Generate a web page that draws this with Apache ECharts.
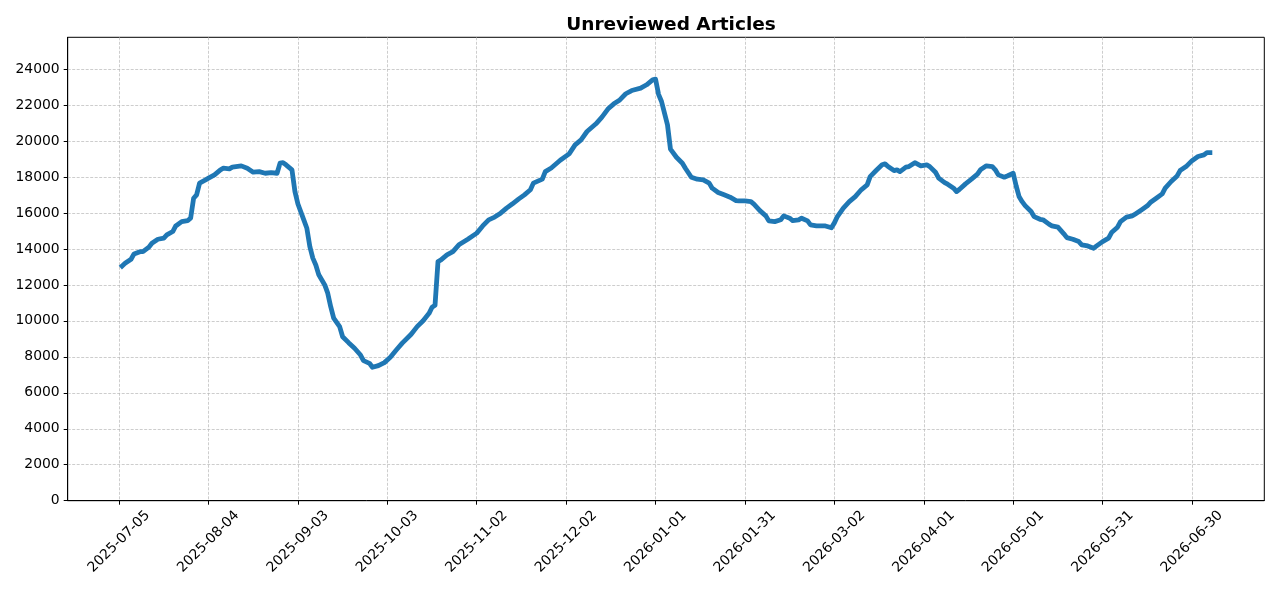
<!DOCTYPE html>
<html>

<head>
  <meta charset="utf-8">
  <title>Unreviewed Articles</title>
  <script src="https://cdn.jsdelivr.net/npm/echarts@6/dist/echarts.min.js"></script>
</head>
<style>
  * {
    padding: 0;
    margin: 0;
  }

  #main {
    width: 1280px;
    height: 591px;
    overflow: hidden;
    position: absolute;
    background: #fff;
  }
</style>

<body>
  <div id="main"></div>
  <script type="text/javascript">
    // x = days since 2025-07-05
    var tickDays = [0, 30, 60, 90, 120, 150, 180, 210, 240, 270, 300, 330, 360];
    var tickLabels = ['2025-07-05', '2025-08-04', '2025-09-03', '2025-10-03', '2025-11-02', '2025-12-02',
      '2026-01-01', '2026-01-31', '2026-03-02', '2026-04-01', '2026-05-01', '2026-05-31', '2026-06-30'];
    var yTicks = [0, 2000, 4000, 6000, 8000, 10000, 12000, 14000, 16000, 18000, 20000, 22000, 24000];

    var days = [1, 2, 4, 5, 7, 8, 10, 11, 13, 15, 16, 18, 19, 21, 23, 24, 25, 26, 27, 29,
      30, 32, 34, 35, 37, 38, 41, 43, 45, 47, 49, 51, 53, 54, 55, 56, 58, 59, 60, 62,
      63, 64, 65, 66, 67, 69, 70, 71, 72, 74, 75, 77, 79, 81, 82, 84, 85, 87, 89, 91,
      93, 95, 98, 100, 102, 104, 105, 106, 107, 108, 110, 112, 114, 117, 120, 122, 124, 126, 128, 130,
      132, 134, 136, 138, 139, 142, 143, 145, 148, 151, 153, 155, 157, 160, 162, 164, 166, 168, 170, 172,
      175, 177, 179, 180, 181, 182, 184, 185, 187, 189, 190, 192, 194, 196, 198, 199, 201, 203, 205, 207,
      208, 210, 212, 213, 215, 217, 218, 220, 222, 223, 225, 226, 228, 229, 231, 232, 234, 237, 239, 240,
      241, 243, 245, 247, 249, 251, 252, 254, 256, 257, 258, 260, 261, 262, 264, 265, 267, 269, 271, 272,
      274, 275, 277, 278, 280, 281, 282, 284, 286, 288, 289, 291, 293, 294, 295, 297, 298, 300, 301, 302,
      303, 304, 306, 307, 309, 310, 312, 313, 315, 317, 318, 320, 322, 323, 325, 327, 328, 330, 332, 333,
      335, 336, 338, 340, 341, 343, 345, 346, 348, 350, 351, 353, 355, 356, 358, 360, 362, 364, 365, 366];
    var articles = [13050, 13200, 13430, 13725, 13850, 13850, 14100, 14320, 14540, 14600, 14780, 14970, 15280, 15520, 15580, 15710, 16820, 17010, 17660, 17840,
      17935, 18120, 18400, 18490, 18450, 18550, 18620, 18490, 18270, 18300, 18210, 18250, 18210, 18770, 18800, 18680, 18400, 17190, 16500, 15600,
      15150, 14130, 13490, 13110, 12560, 12000, 11540, 10790, 10150, 9680, 9120, 8790, 8480, 8100, 7790, 7640, 7420, 7510, 7680, 7980,
      8380, 8760, 9260, 9680, 10010, 10420, 10760, 10870, 13300, 13390, 13670, 13850, 14230, 14540, 14880, 15280, 15620, 15770, 15990, 16270,
      16510, 16770, 17010, 17290, 17660, 17880, 18300, 18500, 18930, 19290, 19790, 20070, 20530, 20960, 21330, 21780, 22070, 22290, 22630, 22810,
      22940, 23130, 23400, 23440, 22600, 22200, 20900, 19550, 19100, 18770, 18490, 17990, 17880, 17840, 17660, 17380, 17140, 17010, 16880, 16690,
      16670, 16670, 16630, 16490, 16130, 15840, 15560, 15520, 15620, 15840, 15710, 15580, 15620, 15710, 15560, 15340, 15280, 15280, 15180, 15450,
      15800, 16270, 16630, 16910, 17290, 17560, 18020, 18360, 18680, 18730, 18580, 18360, 18400, 18300, 18550, 18580, 18800, 18620, 18680, 18580,
      18250, 17940, 17690, 17600, 17380, 17190, 17320, 17620, 17880, 18160, 18400, 18620, 18580, 18400, 18120, 17990, 18060, 18210, 17500, 16900,
      16630, 16410, 16080, 15800, 15650, 15620, 15380, 15280, 15210, 14840, 14630, 14540, 14410, 14230, 14170, 14040, 14170, 14410, 14600, 14910,
      15210, 15520, 15770, 15840, 15950, 16170, 16400, 16580, 16820, 17060, 17380, 17750, 18060, 18360, 18580, 18910, 19140, 19230, 19360, 19360];

    var seriesData = days.map(function (d, i) { return [d, articles[i]]; });

    var gridLine = { show: true, lineStyle: { color: '#b8b8b8', width: 0.7, type: [3, 1.5] } };
    var font = 'DejaVu Sans';

    var option = {
      animation: false,
      backgroundColor: '#fff',
      title: {
        text: 'Unreviewed Articles',
        left: 666,
        top: 11,
        textAlign: 'center',
        textStyle: { fontFamily: font, fontSize: 18.5, fontWeight: 'bold', color: '#000' }
      },
      grid: {
        left: 67.7, right: 15.7, top: 37.3, bottom: 90.3,
        show: true, borderColor: '#000', borderWidth: 1, backgroundColor: 'transparent'
      },
      xAxis: {
        type: 'value',
        min: -17.25,
        max: 384.25,
        axisLine: { show: true, onZero: false, lineStyle: { color: '#000', width: 1 } },
        axisTick: { show: true, length: 4, customValues: tickDays, lineStyle: { color: '#000' } },
        axisLabel: {
          customValues: tickDays,
          rotate: 45,
          margin: 41,
          align: 'center',
          verticalAlign: 'middle',
          fontFamily: font,
          fontSize: 13.9,
          color: '#000',
          formatter: function (v) { return tickLabels[tickDays.indexOf(v)]; }
        },
        splitLine: gridLine
      },
      yAxis: {
        type: 'value',
        min: 0,
        max: 25770,
        axisLine: { show: true, onZero: false, lineStyle: { color: '#000', width: 1 } },
        axisTick: { show: true, length: 4, customValues: yTicks, lineStyle: { color: '#000' } },
        axisLabel: {
          customValues: yTicks,
          margin: 8,
          fontFamily: font,
          fontSize: 13.9,
          color: '#000',
          formatter: function (v) { return String(v); }
        },
        splitLine: gridLine
      },
      series: [{
        type: 'line',
        data: seriesData,
        showSymbol: false,
        smooth: false,
        lineStyle: { color: '#1f77b4', width: 4.8, cap: 'square', join: 'round' }
      }]
    };

    var myChart = echarts.init(document.getElementById('main'));
    myChart.setOption(option);
  </script>
</body>

</html>
